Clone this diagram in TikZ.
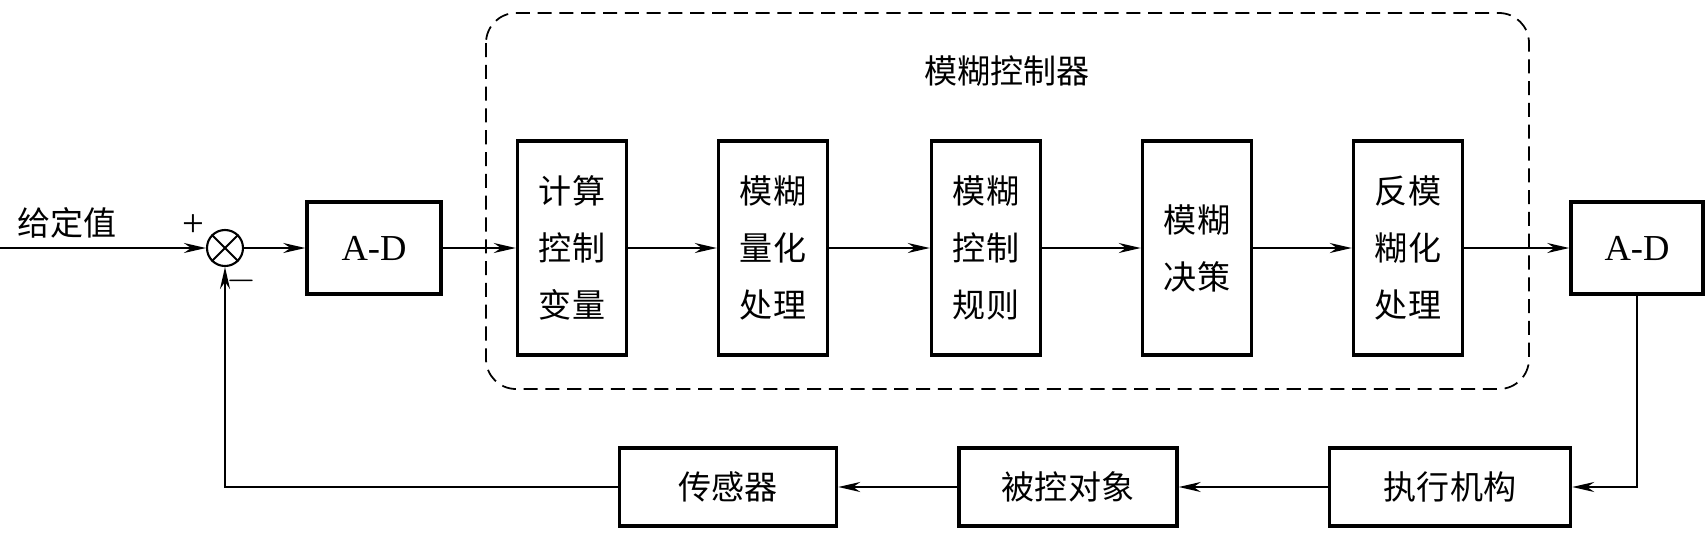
\documentclass[tikz,border=0pt]{standalone}
\usepackage{fontspec}
\setmainfont{Liberation Serif}
\newfontfamily\cjk{Noto Sans CJK SC}
\usetikzlibrary{arrows.meta}

\begin{document}
\begin{tikzpicture}[x=0.01cm, y=-0.01cm,
  blk/.style={draw, line width=0.95pt, inner sep=0pt},
  tall/.style={blk, minimum width=1.09cm, minimum height=2.14cm, align=center, font=\cjk\fontsize{9.4}{16.2}\selectfont},
  adbox/.style={blk, minimum width=1.34cm, minimum height=0.92cm, font=\fontsize{10.4}{12}\selectfont},
  wide/.style={blk, minimum height=0.78cm, font=\cjk\fontsize{9.4}{11}\selectfont},
  sig/.style={-{Stealth[length=2.2mm, width=1.0mm]}, line width=0.5pt}]
\useasboundingbox (0,0) rectangle (1705,539);
\draw[dash pattern=on 4pt off 2.2pt, line width=0.5pt, rounded corners=0.3cm] (486,13) rectangle (1529,389);
\node[font=\cjk\fontsize{9.4}{11}\selectfont] (title) at (1007,71) {模糊控制器};
\coordinate (in) at (0,248);
\node[font=\cjk\fontsize{9.4}{11}\selectfont] (setp) at (67,223) {给定值};
\node[draw, circle, minimum size=0.36cm, inner sep=0pt, line width=0.6pt] (sum) at (225,248) {};
\draw[line width=0.6pt] (sum.north west) -- (sum.south east);
\draw[line width=0.6pt] (sum.north east) -- (sum.south west);
\node[font=\fontsize{11}{12}\selectfont] (plus) at (193,226) {+};
\node[font=\fontsize{11}{12}\selectfont] (minus) at (241,281) {$-$};
\node[adbox] (ad1) at (374,248) {A-D};
\node[tall] (b1) at (572,248) {计算\\控制\\变量};
\node[tall] (b2) at (773,248) {模糊\\量化\\处理};
\node[tall] (b3) at (986,248) {模糊\\控制\\规则};
\node[tall] (b4) at (1197,248) {模糊\\决策};
\node[tall] (b5) at (1408,248) {反模\\糊化\\处理};
\node[adbox, minimum width=1.32cm] (ad2) at (1637,248) {A-D};
\node[wide, minimum width=2.41cm] (act) at (1450,487) {执行机构};
\node[wide, minimum width=2.18cm] (plant) at (1068,487) {被控对象};
\node[wide, minimum width=2.17cm] (sens) at (728,487) {传感器};
\draw[sig] (in) -- (sum.west);
\draw[sig] (sum.east) -- (ad1.west);
\draw[sig] (ad1.east) -- (b1.west);
\draw[sig] (b1.east) -- (b2.west);
\draw[sig] (b2.east) -- (b3.west);
\draw[sig] (b3.east) -- (b4.west);
\draw[sig] (b4.east) -- (b5.west);
\draw[sig] (b5.east) -- (ad2.west);
\draw[sig] (ad2.south) |- (act.east);
\draw[sig] (act.west) -- (plant.east);
\draw[sig] (plant.west) -- (sens.east);
\draw[sig] (sens.west) -| (sum.south);
\end{tikzpicture}
\end{document}
